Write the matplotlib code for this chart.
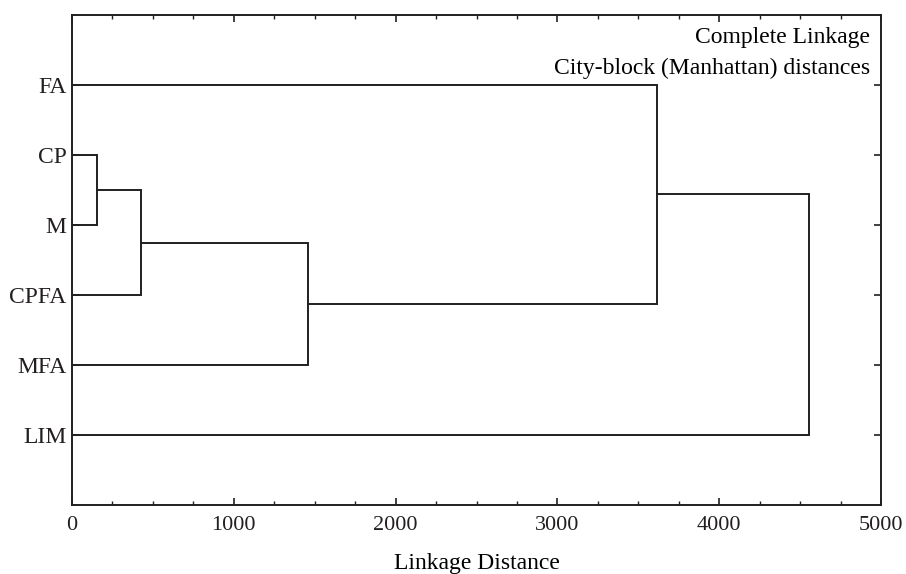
import matplotlib
matplotlib.use('Agg')
import matplotlib.pyplot as plt
from matplotlib.ticker import MultipleLocator

plt.rcParams['font.family'] = ['Liberation Serif', 'DejaVu Serif']

# leaves top to bottom
labels = ['FA', 'CP', 'M', 'CPFA', 'MFA', 'LIM']
# merges: (left cluster, right cluster, linkage distance)
# clusters 0-5 are leaves, 6+ are merged clusters in order
merges = [(1, 2, 155), (6, 3, 426), (7, 4, 1459), (0, 8, 3616), (9, 5, 4555)]

fig = plt.figure(figsize=(9.06, 5.74), dpi=100)
ax = fig.add_axes([72/906, 1 - 505/574, 809/906, 490/574])

pos = {i: (0.0, i + 1.0) for i in range(len(labels))}
for k, (a, b, d) in enumerate(merges):
    xa, ya = pos[a]
    xb, yb = pos[b]
    ax.plot([xa, d, d, xb], [ya, ya, yb, yb], color='#231f20', lw=1.4,
            solid_joinstyle='miter')
    pos[len(labels) + k] = (d, (ya + yb) / 2)

ax.set_xlim(0, 5000)
ax.set_ylim(7, 0)
ax.set_yticks(range(1, len(labels) + 1))
ax.set_yticklabels(labels)
ax.xaxis.set_major_locator(MultipleLocator(1000))
ax.xaxis.set_minor_locator(MultipleLocator(250))
ax.tick_params(axis='x', direction='in', top=True, labelsize=16,
               length=5, width=1.2, colors='#231f20', pad=8)
ax.tick_params(axis='x', which='minor', direction='in', top=True, length=3,
               width=1.0, colors='#231f20')
ax.tick_params(axis='y', direction='in', right=True, labelsize=17,
               length=5, width=1.2, colors='#231f20', pad=4)
for s in ax.spines.values():
    s.set_linewidth(1.4)
    s.set_color('#231f20')

ax.set_xlabel('Linkage Distance', fontsize=17, labelpad=13)
ax.text(0.987, 0.975, 'Complete Linkage', transform=ax.transAxes,
        ha='right', va='top', fontsize=17)
ax.text(0.987, 0.913, 'City-block (Manhattan) distances', transform=ax.transAxes,
        ha='right', va='top', fontsize=17)

fig.savefig('out.png', dpi=100)
